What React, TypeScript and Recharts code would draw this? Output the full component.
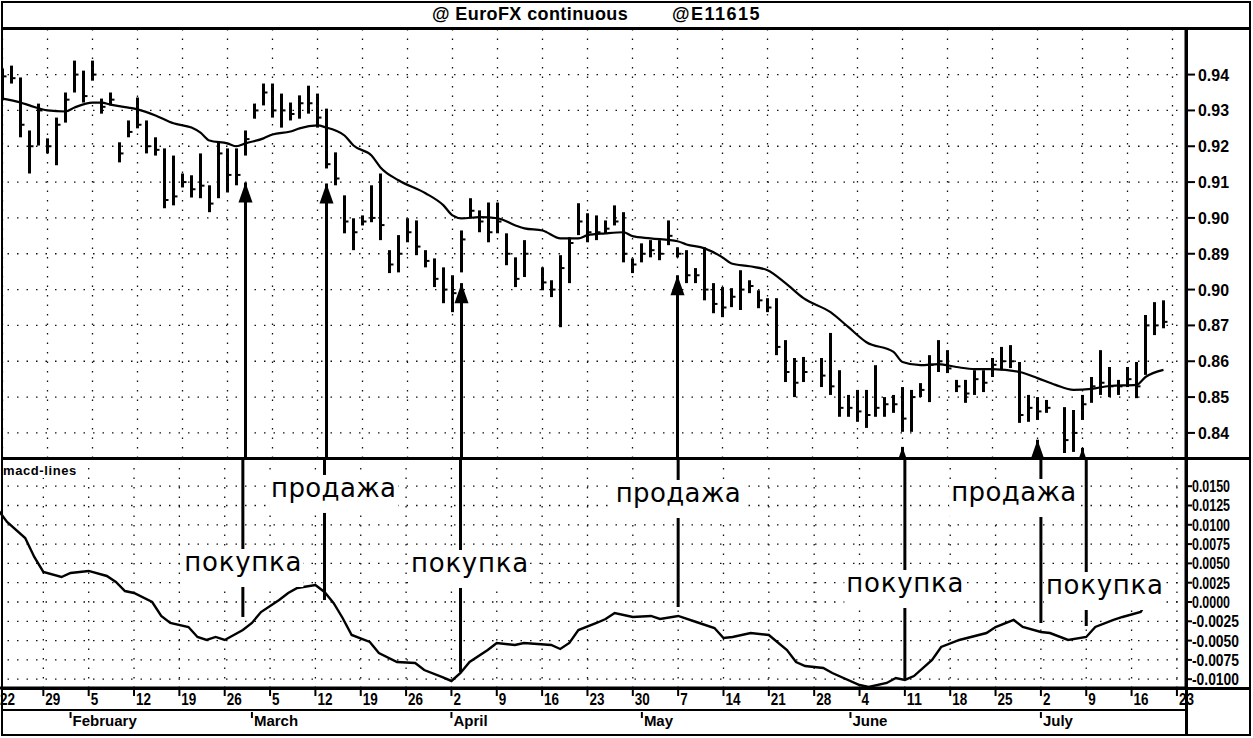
import React from 'react';
import {
  ComposedChart,
  Bar,
  Line,
  XAxis,
  YAxis,
  CartesianGrid,
  ReferenceLine,
  ReferenceDot,
} from 'recharts';

// daily bars, one slot per weekday starting Mon Jan 22; null = holiday
const barHigh = [
  0.9417, 0.9425, 0.9392, 0.9244, 0.9319, 0.9222, 0.928, 0.935, 0.9439, 0.9411,
  0.9439, 0.9333, 0.935, 0.9211, 0.9272, 0.9336, 0.9272, 0.9225, 0.9194, 0.9174,
  0.9124, 0.9119, 0.918, 0.9091, 0.9211, 0.9194, 0.9194, 0.9244, 0.9319, 0.9375,
  0.9375, 0.9347, 0.9322, 0.9342, 0.9369, 0.9347, 0.9305, 0.9183, 0.9063, 0.8999,
  0.9007, 0.9091, 0.9124, 0.891, 0.8952, 0.8999, 0.8993, 0.891, 0.8887, 0.8862,
  0.884, 0.8965, 0.9055, 0.9021, 0.9043, 0.9043, 0.8957, 0.889, 0.8938, null,
  0.8862, 0.8826, 0.8896, 0.8946, 0.9041, 0.9013, 0.9007, 0.8993, 0.9035, 0.9016,
  0.8887, 0.8929, 0.8938, 0.8938, 0.8993, 0.8918, 0.891, 0.886, 0.8918, 0.8818,
  0.8807, 0.8804, 0.8854, 0.8826, 0.8798, 0.8776, 0.8776, 0.8659, 0.8609, 0.8612,
  null, 0.8609, 0.8679, 0.8575, 0.8506, 0.852, 0.852, 0.8589, 0.85, 0.8506,
  0.8528, 0.852, 0.8539, 0.8617, 0.8659, 0.8631, 0.8548, 0.8548, 0.8575, 0.8575,
  0.8609, 0.864, 0.8645, 0.8598, 0.8506, 0.85, 0.8492, null, 0.8472, 0.8464,
  0.8506, 0.8556, 0.8631, 0.8584, 0.8548, 0.8584, 0.8598, 0.8729, 0.8765, 0.877,
];
const barLow = [
  0.9328, 0.9375, 0.9225, 0.9124, 0.9202, 0.918, 0.9147, 0.9266, 0.935, 0.9322,
  0.9383, 0.9291, 0.9314, 0.9155, 0.9225, 0.925, 0.918, 0.9174, 0.9027, 0.9035,
  0.9085, 0.9057, 0.9055, 0.9016, 0.9055, 0.9071, 0.9091, 0.9174, 0.9277, 0.9314,
  0.928, 0.9252, 0.9272, 0.9277, 0.9291, 0.9252, 0.9138, 0.9091, 0.8957, 0.891,
  0.8979, 0.8988, 0.8938, 0.8846, 0.8848, 0.8932, 0.8896, 0.8862, 0.8807, 0.8762,
  0.8737, 0.8848, 0.8999, 0.896, 0.8932, 0.8957, 0.8868, 0.8807, 0.8835, null,
  0.8798, 0.8779, 0.8695, 0.8818, 0.8952, 0.8932, 0.8938, 0.8957, 0.8979, 0.8876,
  0.8846, 0.8876, 0.889, 0.8882, 0.8924, 0.889, 0.8818, 0.8818, 0.877, 0.8734,
  0.8723, 0.8751, 0.8743, 0.879, 0.8748, 0.8737, 0.8617, 0.8542, 0.85, 0.8542,
  null, 0.8528, 0.8506, 0.8445, 0.8445, 0.8431, 0.8414, 0.8445, 0.8445, 0.8456,
  0.8403, 0.8403, 0.85, 0.8486, 0.857, 0.8567, 0.8514, 0.8484, 0.8506, 0.8514,
  0.8556, 0.8575, 0.8581, 0.8428, 0.8431, 0.8436, 0.8456, null, 0.8344, 0.8347,
  0.8436, 0.8484, 0.8506, 0.85, 0.8506, 0.8528, 0.8497, 0.8562, 0.8673, 0.8692,
];
const barClose = [
  0.9395, 0.939, 0.926, 0.92, 0.93, 0.92, 0.926, 0.933, 0.94, 0.934,
  0.94, 0.931, 0.933, 0.918, 0.924, 0.926, 0.92, 0.919, 0.905, 0.906,
  0.91, 0.908, 0.909, 0.904, 0.918, 0.912, 0.912, 0.922, 0.93, 0.935,
  0.93, 0.93, 0.929, 0.932, 0.932, 0.928, 0.915, 0.911, 0.899, 0.896,
  0.899, 0.9, 0.898, 0.887, 0.89, 0.896, 0.892, 0.888, 0.883, 0.88,
  0.879, 0.894, 0.902, 0.899, 0.896, 0.899, 0.89, 0.883, 0.89, null,
  0.882, 0.88, 0.886, 0.893, 0.899, 0.896, 0.896, 0.897, 0.899, 0.89,
  0.887, 0.89, 0.891, 0.89, 0.895, 0.89, 0.884, 0.884, 0.88, 0.876,
  0.875, 0.878, 0.88, 0.881, 0.877, 0.875, 0.864, 0.857, 0.854, 0.857,
  null, 0.856, 0.853, 0.847, 0.847, 0.846, 0.845, 0.847, 0.848, 0.848,
  0.844, 0.85, 0.852, 0.859, 0.86, 0.858, 0.853, 0.851, 0.855, 0.854,
  0.859, 0.86, 0.86, 0.845, 0.847, 0.846, 0.847, null, 0.838, 0.84,
  0.848, 0.853, 0.854, 0.853, 0.853, 0.855, 0.853, 0.87, 0.87, 0.871,
];

// moving average read at [slot, price]
const maPoints: [number, number][] = [
  [0, 0.9333], [2, 0.9322], [3, 0.9314], [5, 0.93], [7, 0.9297], [8, 0.9308], [10, 0.9322],
  [11, 0.9322], [12, 0.9316], [14, 0.9308], [15, 0.9303], [17, 0.9286], [19, 0.9264],
  [21, 0.9252], [22, 0.9238], [23, 0.9216], [25, 0.9208], [26, 0.92], [27, 0.9208],
  [29, 0.9222], [30, 0.9233], [32, 0.9241], [33, 0.925], [35, 0.9258], [36, 0.9252],
  [37, 0.9244], [38, 0.923], [39, 0.9202], [41, 0.9174], [42, 0.9141], [44, 0.9105],
  [47, 0.9069], [49, 0.9035], [50, 0.9007], [51, 0.8999], [53, 0.9002], [55, 0.8999],
  [57, 0.8979], [58, 0.8971], [60, 0.8965], [62, 0.8943], [64, 0.8943], [65, 0.8952],
  [67, 0.8957], [69, 0.896], [70, 0.8949], [72, 0.8943], [75, 0.8935], [76, 0.8926],
  [78, 0.8915], [80, 0.889], [81, 0.8873], [83, 0.8865], [85, 0.8854], [87, 0.8818],
  [89, 0.8776], [92, 0.8737], [94, 0.8695], [96, 0.8653], [99, 0.8626], [100, 0.8598],
  [102, 0.8589], [104, 0.8592], [106, 0.8584], [108, 0.8578], [110, 0.8578], [113, 0.857],
  [115, 0.8553], [117, 0.8534], [119, 0.852], [121, 0.8523], [123, 0.8531], [126, 0.8534],
  [127, 0.8556], [129, 0.8576],
];

// macd line read at [slot, value]
const macdPoints: [number, number][] = [
  [0, 0.01192], [1, 0.01036], [3, 0.00829], [4, 0.00583], [5, 0.00389], [7, 0.00324],
  [8, 0.00376], [10, 0.00402], [12, 0.00337], [13, 0.00259], [14, 0.00142], [15, 0.00117],
  [17, 0], [18, -0.00181], [19, -0.00272], [21, -0.00324], [22, -0.00453], [23, -0.00492],
  [24, -0.00453], [25, -0.00492], [27, -0.00363], [28, -0.00272], [29, -0.0013], [31, 0.00026],
  [32, 0.00117], [33, 0.00181], [35, 0.0022], [36, 0.0013], [37, -0.00013], [38, -0.00207],
  [39, -0.00427], [41, -0.00518], [42, -0.00661], [44, -0.00777], [46, -0.0079], [47, -0.00881],
  [49, -0.00972], [50, -0.01023], [51, -0.0092], [52, -0.00777], [54, -0.00622], [55, -0.00531],
  [57, -0.00557], [58, -0.00531], [61, -0.00557], [62, -0.00609], [63, -0.00531], [64, -0.00363],
  [66, -0.00272], [67, -0.0022], [68, -0.00142], [70, -0.00194], [72, -0.00181], [73, -0.0022],
  [75, -0.00181], [77, -0.00259], [79, -0.00337], [80, -0.00466], [81, -0.00453], [83, -0.00402],
  [85, -0.00427], [87, -0.00622], [88, -0.00777], [89, -0.00829], [91, -0.00855], [92, -0.0092],
  [95, -0.01075], [96, -0.01101], [98, -0.01049], [99, -0.00984], [100, -0.0101], [101, -0.00959],
  [103, -0.00751], [104, -0.00583], [106, -0.00492], [109, -0.00402], [110, -0.00324],
  [112, -0.00233], [113, -0.00324], [115, -0.00389], [116, -0.00402], [118, -0.00492],
  [120, -0.00453], [121, -0.00324], [123, -0.00233], [124, -0.00194], [126, -0.0013],
  [127, 0.00065], [128, 0.0013],
];

const dayLabels = [
  '22', '29', '5', '12', '19', '26', '5', '12', '19', '26', '2', '9', '16', '23',
  '30', '7', '14', '21', '28', '4', '11', '18', '25', '2', '9', '16', '23',
];
const monthNames = ['February', 'March', 'April', 'May', 'June', 'July'];
const monthStarts = [8, 28, 50, 71, 94, 115];

const priceTicks = [0.84, 0.85, 0.86, 0.87, 0.88, 0.89, 0.9, 0.91, 0.92, 0.93, 0.94];
const priceTickLabels = ['0.84', '0.85', '0.86', '0.87', '0.90', '0.89', '0.90', '0.91', '0.92', '0.93', '0.94'];
const macdTicks = [0.015, 0.0125, 0.01, 0.0075, 0.005, 0.0025, 0, -0.0025, -0.005, -0.0075, -0.01];
const macdTickLabels = ['0.0150', '0.0125', '0.0100', '0.0075', '0.0050', '0.0025', '0.0000', '-0.0025', '-0.0050', '-0.0075', '-0.0100'];

// signals: arrow slot, word, price the arrow points at, label slot, label level, where the line meets macd
const signalIdx = [27, 36, 51, 75, 100, 115, 120];
const signalWord = ['покупка', 'продажа', 'покупка', 'продажа', 'покупка', 'продажа', 'покупка'];
const signalPrice = [0.9099, 0.9096, 0.8818, 0.884, 0.8361, 0.8381, 0.8358];
const signalTextIdx = [27, 37, 52, 75, 100, 112, 122];
const signalTextLevel = [0.00492, 0.01451, 0.00479, 0.01386, 0.0022, 0.01399, 0.00194];
const signalMacdEnd = [-0.00194, 0.00026, -0.00907, -0.00065, -0.0101, -0.00272, -0.00311];

const SLOTS = 132;
const PRICE_DOMAIN: [number, number] = [0.833, 0.953];
const MACD_DOMAIN: [number, number] = [-0.01114, 0.01865];
const weekIdx = dayLabels.map((_, k) => k * 5);
const dateTicks = Array.from(new Set([...weekIdx, ...monthStarts])).sort((a, b) => a - b);

const rows = Array.from({ length: SLOTS }, (_, i) => {
  const h = barHigh[i] ?? null;
  const l = barLow[i] ?? null;
  return {
    i,
    range: h != null && l != null ? [l, h] : null,
    high: h,
    low: l,
    close: barClose[i] ?? null,
    ma: null as number | null,
    macd: null as number | null,
  };
});
maPoints.forEach(([i, v]) => { rows[i].ma = v; });
macdPoints.forEach(([i, v]) => { rows[i].macd = v; });

const AXIS_FONT = 'Liberation Sans, Arial, sans-serif';
const GRID = { stroke: '#111', strokeDasharray: '1.5 8', strokeWidth: 1.3 };

const OhlcShape = (props: any) => {
  const { x, y, width, height, payload } = props;
  if (!payload || payload.high == null) return null;
  const top = Math.min(y, y + height);
  const h = Math.abs(height);
  const cx = x + width / 2;
  const yc = top + ((payload.high - payload.close) / (payload.high - payload.low)) * h;
  return (
    <g>
      <line x1={cx} x2={cx} y1={top} y2={top + h} stroke="#000" strokeWidth={3} />
      <line x1={cx} x2={cx + 4} y1={yc} y2={yc} stroke="#000" strokeWidth={2} />
    </g>
  );
};

const ArrowHead = (p: any) => (
  <path d={`M${p.cx},${p.cy} L${p.cx - 7},${p.cy + 20} L${p.cx + 7},${p.cy + 20} Z`} fill="#000" />
);

const PriceTick = (props: any) => {
  const { x, y, payload } = props;
  const k = priceTicks.findIndex((t) => Math.abs(t - payload.value) < 1e-9);
  return (
    <g>
      <line x1={x} x2={x + 9} y1={y} y2={y} stroke="#000" strokeWidth={2} />
      <text x={x + 12} y={y + 6} fontSize={17} fontWeight={700} fontFamily={AXIS_FONT}
        textLength={31} lengthAdjust="spacingAndGlyphs" fill="#000">
        {priceTickLabels[k]}
      </text>
    </g>
  );
};

const MacdTick = (props: any) => {
  const { x, y, payload } = props;
  const k = macdTicks.findIndex((t) => Math.abs(t - payload.value) < 1e-9);
  const label = macdTickLabels[k] ?? '';
  const neg = label.startsWith('-');
  return (
    <g>
      <line x1={x} x2={x + 6} y1={y} y2={y} stroke="#000" strokeWidth={2} />
      <text x={x + 6} y={y + 6} fontSize={17} fontWeight={700} fontFamily={AXIS_FONT}
        textLength={neg ? 47 : 38} lengthAdjust="spacingAndGlyphs" fill="#000">
        {label}
      </text>
    </g>
  );
};

const DateTick = (props: any) => {
  const { x, y, payload } = props;
  const v = payload.value as number;
  const wk = v % 5 === 0 ? v / 5 : -1;
  const m = monthStarts.indexOf(v);
  const day = wk >= 0 ? dayLabels[wk] : '';
  return (
    <g>
      {wk >= 0 && (
        <g>
          <line x1={x} x2={x} y1={y} y2={y + 8} stroke="#000" strokeWidth={2} />
          <text x={x + 2} y={y + 17} fontSize={17} fontWeight={700} fontFamily={AXIS_FONT}
            textLength={day.length * 7.5} lengthAdjust="spacingAndGlyphs" fill="#000">
            {day}
          </text>
        </g>
      )}
      {m >= 0 && (
        <g>
          <line x1={x} x2={x} y1={y + 24} y2={y + 30} stroke="#000" strokeWidth={2} />
          <text x={x + 2} y={y + 38} fontSize={15} fontWeight={700} fontFamily={AXIS_FONT} fill="#000">
            {monthNames[m]}
          </text>
        </g>
      )}
    </g>
  );
};

const signalShape = (word: string) => (p: any) => {
  const w = word === 'продажа' ? 125 : 117;
  return (
    <g>
      <rect x={p.cx - w / 2 - 2} y={p.cy - 15} width={w + 4} height={38} fill="#fff" />
      <text x={p.cx} y={p.cy + 7} textAnchor="middle" fontSize={26} fontFamily="DejaVu Sans, sans-serif"
        textLength={w} lengthAdjust="spacing" fill="#000">
        {word}
      </text>
    </g>
  );
};

function PriceChart() {
  return (
    <ComposedChart width={1252} height={430} data={rows} margin={{ top: 0, right: 0, bottom: 0, left: 0 }}>
      <CartesianGrid vertical={false} {...GRID} />
      {weekIdx.map((k) => (
        <ReferenceLine key={'vg' + k} x={k} {...GRID} />
      ))}
      <XAxis dataKey="i" type="category" hide ticks={weekIdx} />
      <YAxis orientation="right" width={64} domain={PRICE_DOMAIN} ticks={priceTicks} allowDataOverflow
        interval={0} tick={<PriceTick />} tickLine={false} tickSize={0} tickMargin={0}
        axisLine={{ stroke: '#000', strokeWidth: 3 }} />
      <Bar dataKey="range" barSize={3} shape={OhlcShape} isAnimationActive={false} />
      <Line dataKey="ma" type="monotone" connectNulls dot={false} stroke="#000" strokeWidth={2.2}
        isAnimationActive={false} />
      {signalIdx.map((s, k) => (
        <ReferenceLine key={'ua' + k} segment={[{ x: s, y: PRICE_DOMAIN[0] }, { x: s, y: signalPrice[k] }]}
          stroke="#000" strokeWidth={3} ifOverflow="visible" />
      ))}
      {signalIdx.map((s, k) => (
        <ReferenceDot key={'uh' + k} x={s} y={signalPrice[k]} r={1} shape={ArrowHead} ifOverflow="visible" />
      ))}
    </ComposedChart>
  );
}

function MacdChart() {
  return (
    <ComposedChart width={1252} height={277} data={rows} margin={{ top: 0, right: 0, bottom: 0, left: 0 }}>
      <CartesianGrid vertical={false} {...GRID} />
      {weekIdx.map((k) => (
        <ReferenceLine key={'vg' + k} x={k} {...GRID} />
      ))}
      <XAxis dataKey="i" type="category" ticks={dateTicks} interval={0} height={47}
        tick={<DateTick />} tickLine={false} tickSize={0} tickMargin={0}
        axisLine={{ stroke: '#000', strokeWidth: 3 }} />
      <YAxis orientation="right" width={64} domain={MACD_DOMAIN} ticks={macdTicks} allowDataOverflow
        interval={0} tick={<MacdTick />} tickLine={false} tickSize={0} tickMargin={0}
        axisLine={{ stroke: '#000', strokeWidth: 3 }} />
      <Line dataKey="macd" type="linear" connectNulls dot={false} stroke="#000" strokeWidth={2.4}
        isAnimationActive={false} />
      {signalIdx.map((s, k) => (
        <ReferenceLine key={'la' + k} segment={[{ x: s, y: MACD_DOMAIN[1] }, { x: s, y: signalMacdEnd[k] }]}
          stroke="#000" strokeWidth={3} ifOverflow="visible" />
      ))}
      {signalIdx.map((_, k) => (
        <ReferenceDot key={'lt' + k} x={signalTextIdx[k]} y={signalTextLevel[k]} r={1}
          shape={signalShape(signalWord[k])} ifOverflow="visible" />
      ))}
    </ComposedChart>
  );
}

const bar = (s: React.CSSProperties): React.CSSProperties => ({ position: 'absolute', background: '#000', ...s });

export default function App() {
  return (
    <div style={{ position: 'relative', width: 1253, height: 738, background: '#fff', overflow: 'hidden', fontFamily: AXIS_FONT }}>
      <style>{'body{margin:0;background:#fff}'}</style>
      <span style={{ position: 'absolute', left: 432, top: 4, fontSize: 18, lineHeight: '20px', fontWeight: 700, letterSpacing: 0.4 }}>
        @ EuroFX continuous
      </span>
      <span style={{ position: 'absolute', left: 672, top: 4, fontSize: 18, lineHeight: '20px', fontWeight: 700, letterSpacing: 1.5 }}>
        @E11615
      </span>
      <div style={{ position: 'absolute', left: -2, top: 28 }}>
        <PriceChart />
      </div>
      <div style={{ position: 'absolute', left: -2, top: 458 }}>
        <MacdChart />
      </div>
      <span style={{ position: 'absolute', left: 3, top: 464, fontSize: 13, lineHeight: '14px', fontWeight: 700, letterSpacing: 0.6, background: '#fff' }}>
        macd-lines
      </span>
      <div style={{ position: 'absolute', left: 1, top: 1, width: 1250, height: 735, border: '2px solid #000', boxSizing: 'border-box' }} />
      <div style={bar({ left: 1, top: 27, width: 1250, height: 3 })} />
      <div style={bar({ left: 1, top: 457, width: 1250, height: 3 })} />
      <div style={bar({ left: 1, top: 687, width: 1250, height: 3 })} />
      <div style={bar({ left: 1, top: 709, width: 1186, height: 2 })} />
      <div style={bar({ left: 1185, top: 28, width: 3, height: 707 })} />
    </div>
  );
}
